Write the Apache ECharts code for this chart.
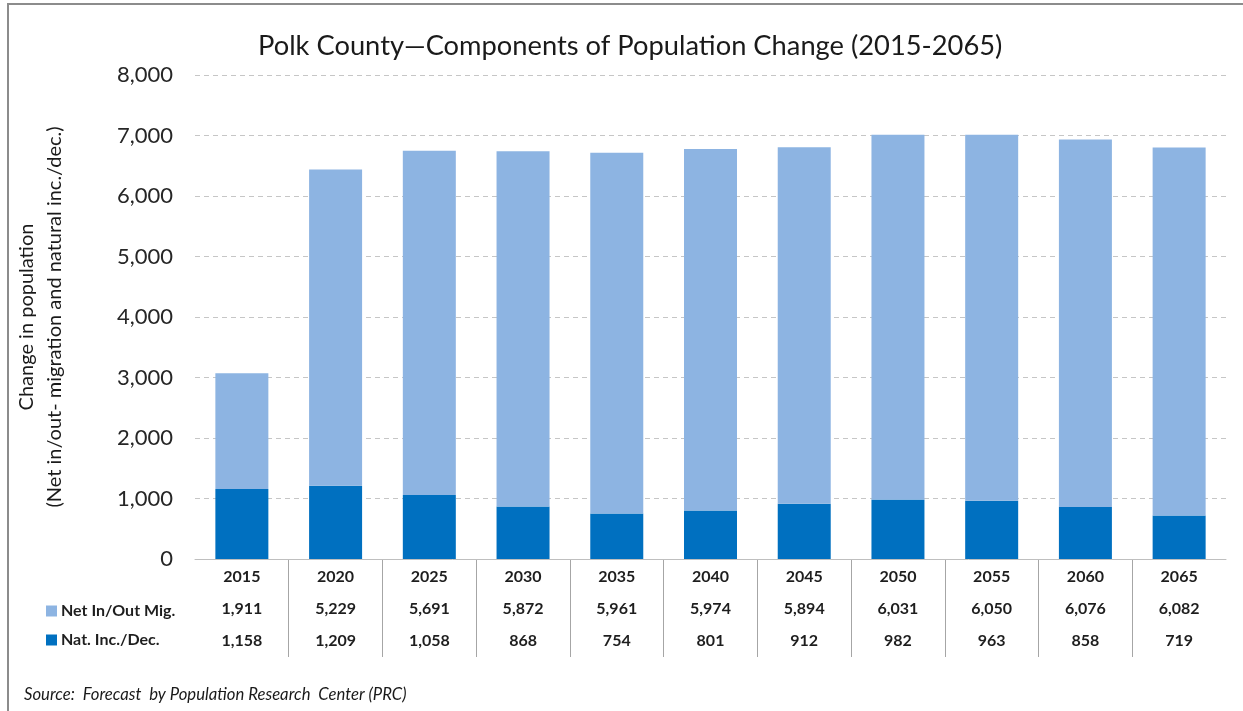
<!DOCTYPE html>
<html>
<head>
<meta charset="utf-8">
<script src="https://cdn.jsdelivr.net/npm/echarts@6/dist/echarts.min.js"></script>
<style>
  html, body { margin: 0; padding: 0; background: #fff; }
  #chart { width: 1243px; height: 711px; position: relative; }
  #frame { position: absolute; left: 7px; top: 3px; width: 1250px; height: 720px;
           border-left: 2px solid #8c8c8c; border-top: 2px solid #8c8c8c; pointer-events: none; }
</style>
</head>
<body>
<div id="chart"></div>
<div id="frame"></div>
<script>
const categories = ['2015','2020','2025','2030','2035','2040','2045','2050','2055','2060','2065'];
const netMigration = [1911, 5229, 5691, 5872, 5961, 5974, 5894, 6031, 6050, 6076, 6082];
const naturalChange = [1158, 1209, 1058, 868, 754, 801, 912, 982, 963, 858, 719];
const seriesNames = ['Net In/Out Mig.', 'Nat. Inc./Dec.'];
const yTicks = { min: 0, max: 8000, interval: 1000 };

const FONT = 'Lato';
const fmt = v => String(v).replace(/\B(?=(\d{3})+(?!\d))/g, ',');

const chart = echarts.init(document.getElementById('chart'), null, { renderer: 'canvas' });

const GRID_LEFT = 195, GRID_RIGHT = 17;
const tableLabel = { fontFamily: FONT, fontWeight: 'bold', fontSize: 16, color: '#1e1e1e' };

chart.setOption({
  animation: false,
  textStyle: { fontFamily: FONT },
  title: [
    {
      text: 'Polk County\u2014Components of Population Change (2015-2065)',
      left: 253, top: 28,
      textStyle: { fontFamily: FONT, fontSize: 27.3, fontWeight: 'normal', color: '#1a1a1a' }
    },
    {
      text: 'Source:  Forecast  by Population Research  Center (PRC)',
      left: 19, top: 681,
      textStyle: { fontFamily: FONT, fontSize: 16.7, fontStyle: 'italic', fontWeight: 'normal', color: '#1a1a1a' }
    }
  ],
  legend: {
    orient: 'vertical',
    left: 41, top: 598,
    itemWidth: 11, itemHeight: 11, itemGap: 13,
    icon: 'rect',
    data: seriesNames,
    textStyle: { fontFamily: FONT, fontWeight: 'bold', fontSize: 16, color: '#1e1e1e', padding: [0, 0, 0, -1] }
  },
  grid: [
    { left: GRID_LEFT, right: GRID_RIGHT, top: 75, bottom: 711 - 559 },
    { left: GRID_LEFT, right: GRID_RIGHT, top: 559, height: 98 }
  ],
  xAxis: [
    {
      type: 'category', gridIndex: 0, data: categories, position: 'bottom',
      axisLine: { lineStyle: { color: '#bfbfbf', width: 1 } },
      axisTick: { show: false },
      axisLabel: Object.assign({ margin: 10, interval: 0 }, tableLabel)
    },
    {
      type: 'category', gridIndex: 0, data: categories, position: 'bottom', offset: 32,
      axisLine: { show: false }, axisTick: { show: false },
      axisLabel: Object.assign({ margin: 10, interval: 0, formatter: (v, i) => fmt(netMigration[i]) }, tableLabel)
    },
    {
      type: 'category', gridIndex: 0, data: categories, position: 'bottom', offset: 64,
      axisLine: { show: false }, axisTick: { show: false },
      axisLabel: Object.assign({ margin: 10, interval: 0, formatter: (v, i) => fmt(naturalChange[i]) }, tableLabel)
    },
    {
      type: 'category', gridIndex: 1, data: categories,
      axisLine: { show: false }, axisTick: { show: false }, axisLabel: { show: false },
      splitLine: { show: true, interval: 0, showMinLine: false, showMaxLine: false,
                   lineStyle: { color: '#a6a6a6', width: 1 } }
    }
  ],
  yAxis: [
    {
      type: 'value', gridIndex: 0,
      min: yTicks.min, max: yTicks.max, interval: yTicks.interval,
      name: 'Change in population\n(Net in/out- migration and natural inc./dec.)',
      nameLocation: 'middle', nameGap: 126, nameRotate: 90,
      nameTextStyle: { fontFamily: FONT, fontSize: 20, color: '#1a1a1a', lineHeight: 28 },
      axisLine: { show: false }, axisTick: { show: false },
      axisLabel: { fontFamily: FONT, fontSize: 22, color: '#262626', margin: 22, formatter: v => fmt(v) },
      splitLine: { lineStyle: { color: '#c6c6c6', type: [5, 4], width: 1 } }
    },
    {
      type: 'value', gridIndex: 1, show: false
    }
  ],
  series: [
    {
      name: seriesNames[1], type: 'bar', stack: 'total', xAxisIndex: 0, yAxisIndex: 0,
      data: naturalChange, barWidth: 53,
      itemStyle: { color: '#0070c0' }
    },
    {
      name: seriesNames[0], type: 'bar', stack: 'total', xAxisIndex: 0, yAxisIndex: 0,
      data: netMigration, barWidth: 53,
      itemStyle: { color: '#8db4e2' }
    }
  ]
});
</script>
</body>
</html>
